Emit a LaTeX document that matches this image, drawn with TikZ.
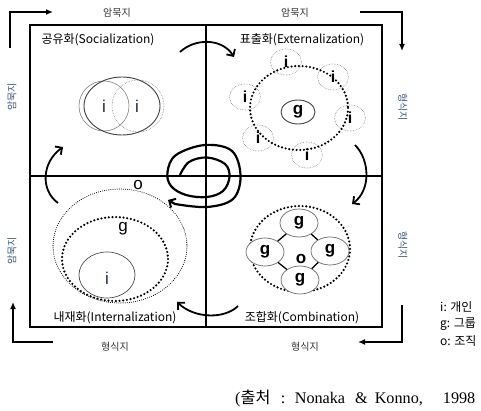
\documentclass[tikz,border=0pt]{standalone}
\usepackage{fontspec}
\setmainfont{Noto Sans CJK KR}
\newfontfamily\citefont{Liberation Serif}
\newfontfamily\cjkfont{Noto Sans CJK KR}
\newfontfamily\lsans{Liberation Sans}
\usetikzlibrary{arrows.meta,shapes.geometric}
\definecolor{sidelbl}{RGB}{60,90,130}
\definecolor{inav}{RGB}{30,40,70}
\begin{document}
\begin{tikzpicture}[x=1pt,y=-1pt,
  title/.style={font=\fontsize{12}{13}\selectfont, inner sep=0pt},
  axlbl/.style={font=\fontsize{10}{11}\selectfont, inner sep=0pt, text=black!80},
  sidelabel/.style={font=\fontsize{10}{11}\selectfont, inner sep=0pt, text=sidelbl},
  corner/.style={line width=1.4pt, -{Latex[length=7pt,width=6pt]}},
  cyc/.style={line width=1.8pt, -{Straight Barb[length=5pt,width=10pt,line width=1.8pt]}},
  bigdot/.style={line width=2.4pt, dash pattern=on 0pt off 3.7pt, line cap=round},
  finedot/.style={line width=1.1pt, dash pattern=on 0pt off 2.1pt, line cap=round},
  ibub/.style={ellipse, draw=gray, densely dotted, line width=0.6pt, minimum width=31pt, minimum height=26pt, inner sep=0pt, font=\lsans\bfseries\fontsize{16}{16}\selectfont},
  gbub/.style={ellipse, draw=gray!80!black, line width=0.7pt, fill=white, minimum width=38pt, minimum height=28pt, inner sep=0pt, font=\lsans\bfseries\fontsize{17}{17}\selectfont},
  letter/.style={inner sep=0pt, font=\lsans\fontsize{17}{17}\selectfont},
  bletter/.style={inner sep=0pt, font=\lsans\bfseries\fontsize{17}{17}\selectfont},
  legend/.style={anchor=west, inner sep=0pt, font=\fontsize{12}{13}\selectfont}
]
\useasboundingbox (0,0) rectangle (481,411);

% frame and axes
\draw[line width=2.6pt] (30,25) rectangle (382,327);
\coordinate (vt) at (206,25); \coordinate (vb) at (206,327);
\coordinate (hl) at (30,176); \coordinate (hr) at (382,176);
\draw[line width=2pt] (vt) -- (vb);
\draw[line width=2pt] (hl) -- (hr);

% quadrant titles
\node[title] (soc) at (98,40) {공유화(Socialization)};
\node[title] (ext) at (302,40) {표출화(Externalization)};
\node[title] (int) at (115,318) {내재화(Internalization)};
\node[title] (com) at (302,318) {조합화(Combination)};

% outer labels
\node[axlbl] (t1) at (117,13) {암묵지};
\node[axlbl] (t2) at (295,13) {암묵지};
\node[axlbl] (b1) at (115,347) {형식지};
\node[axlbl] (b2) at (305,347) {형식지};
\node[sidelabel, rotate=90] (l1) at (12,97) {암묵지};
\node[sidelabel, rotate=90] (l2) at (12,251) {암묵지};
\node[sidelabel, rotate=-90] (r1) at (403,107) {형식지};
\node[sidelabel, rotate=-90] (r2) at (403,245) {형식지};

% corner arrows
\coordinate (c1a) at (10,48); \coordinate (c1b) at (10,12); \coordinate (c1c) at (53,12);
\draw[corner] (c1a) -- (c1b) -- (c1c);
\coordinate (c2a) at (360,12); \coordinate (c2b) at (402,12); \coordinate (c2c) at (402,51);
\draw[corner] (c2a) -- (c2b) -- (c2c);
\coordinate (c3a) at (53,342); \coordinate (c3b) at (13,342); \coordinate (c3c) at (13,302);
\draw[corner] (c3a) -- (c3b) -- (c3c);
\coordinate (c4a) at (402,305); \coordinate (c4b) at (402,342); \coordinate (c4c) at (358,342);
\draw[corner] (c4a) -- (c4b) -- (c4c);

% cycle arrows
\draw[cyc] (180,52) .. controls (195,38) and (222,38) .. (234,57);
\draw[cyc] (355,145) .. controls (370,160) and (371,190) .. (352,204);
\draw[cyc] (238,306) .. controls (225,319) and (195,319) .. (177,302);
\draw[cyc] (58,203) .. controls (40,190) and (42,162) .. (63,147);

% central spiral
\draw[line width=2.2pt, -{Straight Barb[length=5pt,width=10pt,line width=2pt]}]
  plot[smooth, tension=0.6] coordinates {(180,175) (189,162) (207,157.5) (225,164) (229.5,177) (223,191) (207,197) (186,195) (171,186) (167.5,172) (176,155) (205,145) (232,151) (240.5,176) (233,199) (207,207) (175,204)} -- (168,200);

% Socialization
\draw[gray, line width=0.6pt] (104,106) circle (25);
\draw[gray, densely dotted, line width=0.6pt] (138,106) circle (26);
\draw[black!75, line width=0.9pt] (122,106) ellipse (38 and 29);
\node[letter, text=inav] (si1) at (104,106) {i};
\node[letter, text=inav] (si2) at (137,106) {i};

% Externalization
\node[ibub] (e1) at (286,62) {i};
\node[ibub] (e2) at (333,77) {i};
\node[ibub] (e3) at (245,97) {i};
\node[ibub] (e4) at (350,118) {i};
\node[ibub] (e5) at (258,138) {i};
\node[ibub] (e6) at (307,155) {i};
\node[ellipse, draw=black!75, line width=0.9pt, minimum width=34pt, minimum height=24pt, inner sep=0pt, font=\lsans\bfseries\fontsize{17}{17}\selectfont] (eg) at (298,112) {g};
\draw[bigdot] (299,108) ellipse (49 and 42);

% Internalization
\draw[finedot] (120,246) ellipse (67 and 57);
\draw[bigdot] (115,259) ellipse (53 and 42);
\node[ellipse, draw=black!70, line width=0.7pt, minimum width=56pt, minimum height=46pt, inner sep=0pt] (ii) at (107,275) {};
\node[letter, text=inav] (iil) at (107,278) {i};
\node[letter] (ig) at (123,229) {g};
\node[letter] (io) at (138,185) {o};

% Combination
\draw[bigdot] (300,249) ellipse (50 and 43);
\node[gbub] (gt) at (299,223) {g};
\node[gbub] (gl) at (265,252) {g};
\node[gbub] (gr) at (330,251) {g};
\node[gbub] (gb) at (300,280) {g};
\draw[line width=1.3pt] (gt) -- (gl);
\draw[line width=1.3pt] (gt) -- (gr);
\draw[line width=1.3pt] (gb) -- (gl);
\draw[line width=1.3pt] (gb) -- (gr);
\node[bletter] (co) at (301,259) {o};

% legend
\node[legend] (lg1) at (440,307) {i: 개인};
\node[legend] (lg2) at (440,324) {g: 그룹};
\node[legend] (lg3) at (440,341) {o: 조직};

% citation
\node[anchor=west, inner sep=0pt, font=\citefont\fontsize{16.2}{17}\selectfont] (cite) at (235,398) {({\cjkfont 출처}\hspace{10.5pt}:\hspace{9.4pt}Nonaka\hspace{10pt}\&\hspace{7pt}Konno,\hspace{20pt}1998};
\end{tikzpicture}
\end{document}
